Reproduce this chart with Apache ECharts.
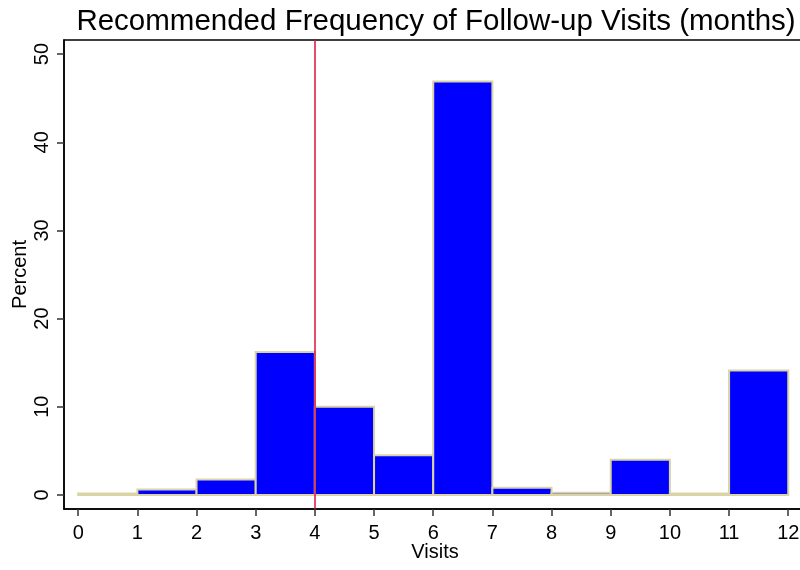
<!DOCTYPE html>
<html>
<head>
<meta charset="utf-8">
<script src="https://cdn.jsdelivr.net/npm/echarts@6/dist/echarts.min.js"></script>
<style>html,body{margin:0;padding:0;background:#fff}#c{width:800px;height:570px}</style>
</head>
<body>
<div id="c"></div>
<script>
var binStarts = [0,1,2,3,4,5,6,7,8,9,10,11];
var binWidth = 1;
var percents = [0.15,0.6,1.75,16.2,10.0,4.5,46.9,0.8,0.25,4.0,0.15,14.1];
var xTicks = [0,1,2,3,4,5,6,7,8,9,10,11,12];
var yTicks = [0,10,20,30,40,50];
var refLine = 4;

var data = binStarts.map(function(s,i){return [s, s+binWidth, percents[i]];});
var chart = echarts.init(document.getElementById('c'));
var font = 'Liberation Sans, Arial, Helvetica, sans-serif';
chart.setOption({
  animation:false,
  title:{text:'Recommended Frequency of Follow-up Visits (months)',left:431,textAlign:'center',top:2,
    textStyle:{fontFamily:font,fontSize:29.5,fontWeight:'normal',color:'#000'}},
  grid:{left:64,top:40,width:742,bottom:61,show:true,borderColor:'#000',borderWidth:1.5,backgroundColor:'#fff',
    containLabel:false,outerBoundsMode:'none'},
  xAxis:{type:'value',min:-0.24,max:12.3,name:'Visits',nameLocation:'middle',nameGap:33,nameMoveOverlap:false,
    nameTextStyle:{fontFamily:font,fontSize:20,color:'#000'},
    axisLine:{show:true,onZero:false,lineStyle:{color:'#000',width:1.5}},
    axisTick:{show:true,length:7,customValues:xTicks,lineStyle:{color:'#333',width:1.5}},
    axisLabel:{customValues:xTicks,fontFamily:font,fontSize:20,color:'#000',margin:14},
    splitLine:{show:false}},
  yAxis:{type:'value',min:-1.6,max:51.6,name:'Percent',nameLocation:'middle',nameGap:34,nameMoveOverlap:false,
    nameTextStyle:{fontFamily:font,fontSize:20,color:'#000'},
    axisLine:{show:true,onZero:false,lineStyle:{color:'#000',width:1.5}},
    axisTick:{show:true,length:7,customValues:yTicks,lineStyle:{color:'#333',width:1.5}},
    axisLabel:{customValues:yTicks,rotate:90,fontFamily:font,fontSize:20,color:'#000',margin:12},
    splitLine:{show:false}},
  series:[{
    type:'custom',
    data:data,
    encode:{x:[0,1],y:2},
    renderItem:function(params,api){
      var p0=api.coord([api.value(0),0]);
      var p1=api.coord([api.value(1),api.value(2)]);
      return {type:'rect',shape:{x:p0[0],y:p1[1],width:p1[0]-p0[0],height:p0[1]-p1[1]},
        style:{fill:'#0000ff',stroke:'#d9d3a6',lineWidth:2}};
    },
    markLine:{silent:true,symbol:'none',label:{show:false},
      lineStyle:{color:'#d6143c',width:1.5,type:'solid'},
      data:[{xAxis:refLine}]}
  }]
});
</script>
</body>
</html>
